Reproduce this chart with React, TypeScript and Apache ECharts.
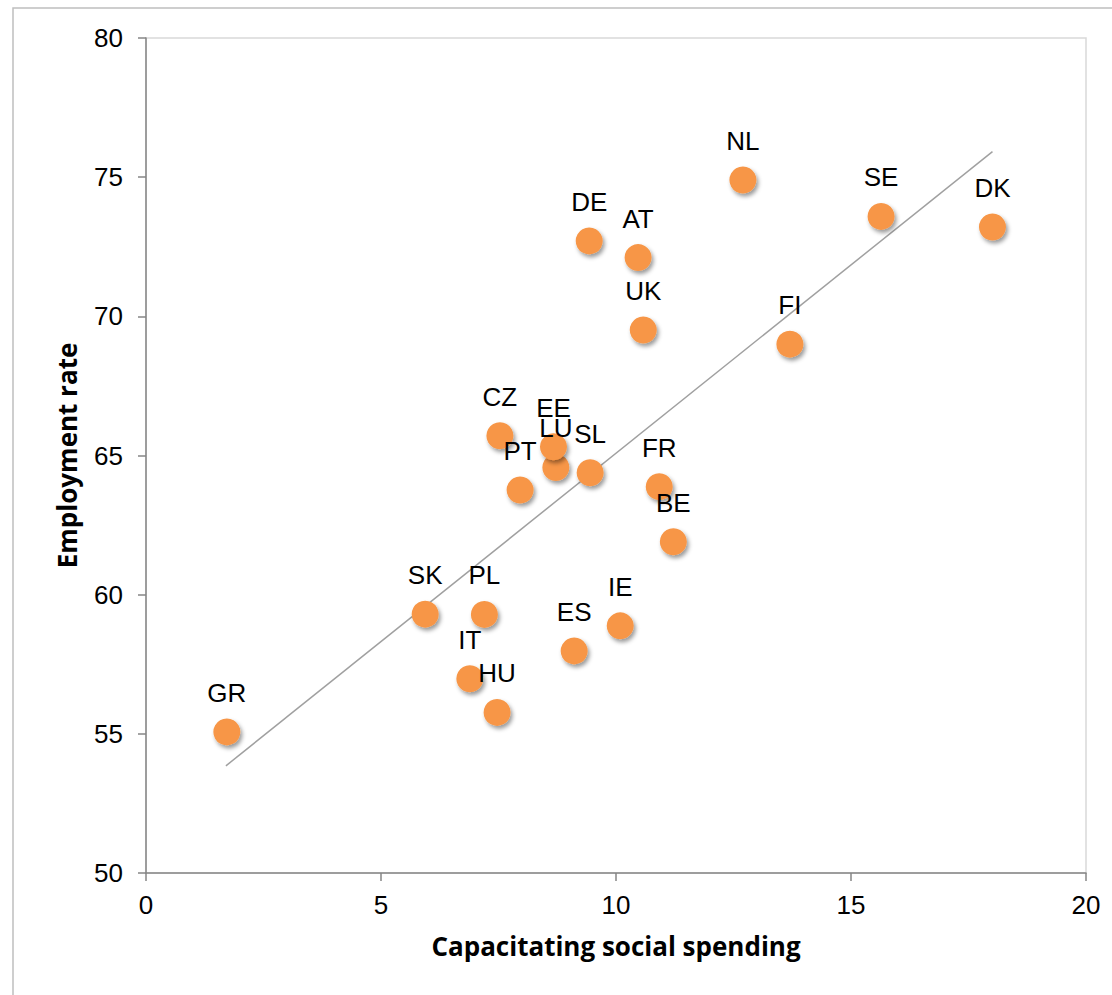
import React, { useEffect, useRef } from "react";
import * as echarts from "echarts";

const countries = ["GR", "SK", "PL", "IT", "HU", "ES", "IE", "BE", "FR", "SL", "LU", "EE", "PT", "CZ", "UK", "FI", "AT", "DE", "NL", "SE", "DK"];
const spending = [1.72, 5.94, 7.2, 6.89, 7.47, 9.11, 10.09, 11.22, 10.92, 9.45, 8.72, 8.67, 7.96, 7.53, 10.58, 13.7, 10.47, 9.43, 12.7, 15.64, 18.01];
const employment = [55.07, 59.3, 59.29, 56.98, 55.77, 57.98, 58.88, 61.9, 63.88, 64.38, 64.57, 65.31, 63.76, 65.71, 69.51, 69.0, 72.11, 72.71, 74.9, 73.59, 73.21];
const trendX = [1.7, 18.01];
const trendY = [53.85, 75.92];
const xTicks = [0, 5, 10, 15, 20];
const yTicks = [50, 55, 60, 65, 70, 75, 80];

export default function App() {
  const ref = useRef<HTMLDivElement>(null);
  useEffect(() => {
    if (!ref.current) return;
    const chart = echarts.init(ref.current, null, { renderer: "svg" });
    const pts = countries.map((c, i) => ({ name: c, value: [spending[i], employment[i]] }));
    const axisLine = { show: true, lineStyle: { color: "#868686", width: 1.5 } };
    chart.setOption({
      animation: false,
      backgroundColor: "#ffffff",
      grid: { left: 146, top: 38, width: 940, height: 835, show: true, borderColor: "#d9d9d9", borderWidth: 1.5, backgroundColor: "transparent" },
      graphic: [
        { type: "rect", shape: { x: 13, y: 8, width: 1300, height: 1200 }, style: { fill: "none", stroke: "#bfbfbf", lineWidth: 1.5 }, silent: true, z: -1 },
      ],
      xAxis: {
        type: "value",
        min: xTicks[0],
        max: xTicks[xTicks.length - 1],
        interval: 5,
        axisLine,
        axisTick: { show: true, inside: false, length: 8, lineStyle: { color: "#868686", width: 1.5 } },
        splitLine: { show: false },
        axisLabel: { color: "#000", fontSize: 26, fontFamily: "Liberation Sans", margin: 19 },
        name: "Capacitating social spending",
        nameLocation: "middle",
        nameGap: 60,
        nameTextStyle: { color: "#000", fontSize: 26, fontWeight: "bold", fontFamily: "Open Sans" },
      },
      yAxis: {
        type: "value",
        min: yTicks[0],
        max: yTicks[yTicks.length - 1],
        interval: 5,
        axisLine,
        axisTick: { show: true, inside: false, length: 8, lineStyle: { color: "#868686", width: 1.5 } },
        splitLine: { show: false },
        axisLabel: { color: "#000", fontSize: 26, fontFamily: "Liberation Sans", margin: 23 },
        name: "Employment rate",
        nameLocation: "middle",
        nameGap: 66,
        nameTextStyle: { color: "#000", fontSize: 26, fontWeight: "bold", fontFamily: "Open Sans" },
      },
      series: [
        {
          type: "line",
          data: trendX.map((x, i) => [x, trendY[i]]),
          showSymbol: false,
          symbol: "none",
          lineStyle: { color: "#a0a0a0", width: 1.5 },
          silent: true,
          z: 1,
        },
        {
          type: "scatter",
          data: pts,
          symbolSize: 27,
          itemStyle: {
            color: "#F79646",
            opacity: 1,
            shadowBlur: 4,
            shadowColor: "rgba(0,0,0,0.4)",
            shadowOffsetX: 2,
            shadowOffsetY: 3,
          },
          label: {
            show: true,
            formatter: (p: any) => p.name,
            position: "inside",
            offset: [0, -39],
            color: "#000",
            textBorderWidth: 0,
            fontSize: 26,
            fontFamily: "Liberation Sans",
          },
          z: 2,
        },
      ],
    });
    return () => chart.dispose();
  }, []);
  return <div ref={ref} style={{ position: "fixed", left: 0, top: 0, width: 1112, height: 995, background: "#fff" }} />;
}
